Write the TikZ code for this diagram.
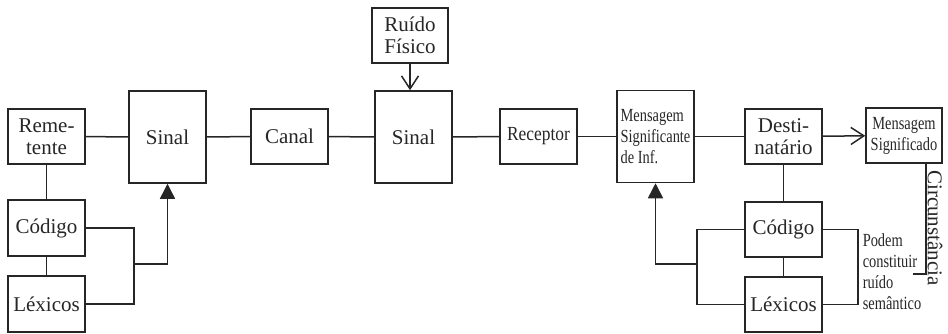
\documentclass[tikz,border=0pt]{standalone}
\usepackage{fontspec}
\setmainfont{Liberation Serif}
\newfontfamily\serifa{Liberation Serif}
\newfontfamily\narrowfont[FakeStretch=0.78]{Liberation Serif}
\newfontfamily\semifont[FakeStretch=0.87]{Liberation Serif}
\usetikzlibrary{arrows.meta}

\begin{document}
\begin{tikzpicture}[
        x=1pt, y=-1pt,
        line width=1.5pt,
        color=black!85,
        font=\serifa\fontsize{21}{22}\selectfont,
        % Stile per i blocchi
        bloco/.style={
            draw,
            minimum width=77pt,
            minimum height=55pt,
            inner sep=1pt,
            align=center
        },
        blocoalto/.style={bloco, minimum height=92pt},
        estreito/.style={font=\narrowfont\fontsize{18.5}{21}\selectfont},
        cheia/.style={-{Triangle[length=15pt,width=15pt]}},
        aberta/.style={-{Straight Barb[length=13pt,width=17pt,line width=1.5pt]}}
    ]

    \useasboundingbox (0,0) rectangle (948,333);

    % ========================================================
    % 1. Cadeia principal
    % ========================================================
    \node[bloco] (rem) at (46.5, 136.5) {Reme-\\tente};
    \node[blocoalto] (sinal1) at (167.5, 137) {Sinal};
    \node[bloco] (canal) at (289.5, 136.5) {Canal};
    \node[blocoalto] (sinal2) at (413.5, 137) {Sinal};
    \node[bloco, font=\semifont\fontsize{20}{22}\selectfont] (recep) at (538.5, 136.5) {Receptor};
    \node[blocoalto, estreito, align=left] (msig) at (655.5, 136.5) {Mensagem\\Significante\\de Inf.};
    \node[bloco] (dest) at (783.5, 136.5) {Desti-\\natário};
    \node[bloco, estreito, minimum width=76pt] (mdo) at (904, 135.5) {Mensagem\\Significado};

    \draw (rem) -- (sinal1);
    \draw (sinal1) -- (canal);
    \draw (canal) -- (sinal2);
    \draw (sinal2) -- (recep);
    \draw (recep) -- (msig);
    \draw (msig) -- (dest);
    \draw[aberta] (dest) -- (mdo);

    % ========================================================
    % 2. Ruido fisico
    % ========================================================
    \node[bloco, minimum width=76pt] (ruido) at (410, 35.5) {Ruído\\Físico};
    \draw[aberta] (ruido.south) -- (ruido.south |- sinal2.north);

    % ========================================================
    % 3. Codigo e lexicos (remetente)
    % ========================================================
    \node[bloco, minimum height=56pt] (codL) at (46.5, 228) {Código};
    \node[bloco, minimum height=56pt] (lexL) at (46.5, 304) {Léxicos};

    \draw (rem) -- (codL);
    \draw (codL) -- (lexL);

    \coordinate (juntaL) at (134, 264);
    \draw (codL.east) -| (juntaL) |- (lexL.east);
    \draw[cheia] (juntaL) -| (sinal1.south);

    % ========================================================
    % 4. Codigo e lexicos (destinatario)
    % ========================================================
    \node[bloco] (codR) at (783.5, 229.5) {Código};
    \node[bloco] (lexR) at (783.5, 304.5) {Léxicos};

    \draw (dest) -- (codR);
    \draw (codR) -- (lexR);

    \coordinate (juntaR) at (697, 264);
    \draw (codR.west) -| (juntaR) |- (lexR.west);
    \draw[cheia] (juntaR) -| (msig.south);

    % Ruido semantico
    \coordinate (semR) at (858, 264);
    \draw (codR.east) -| (semR) |- (lexR.east);
    \node[estreito, align=left, anchor=west, inner sep=0pt] (podem) at (862, 272)
        {Podem\\constituir\\ruído\\semântico};

    % ========================================================
    % 5. Circunstancia
    % ========================================================
    \coordinate (circfim) at (913, 274);
    \draw ([xshift=-17pt]mdo.south east) |- (circfim);
    \node[rotate=-90, inner sep=0pt] (circ) at (935, 228) {Circunstância};

\end{tikzpicture}
\end{document}
